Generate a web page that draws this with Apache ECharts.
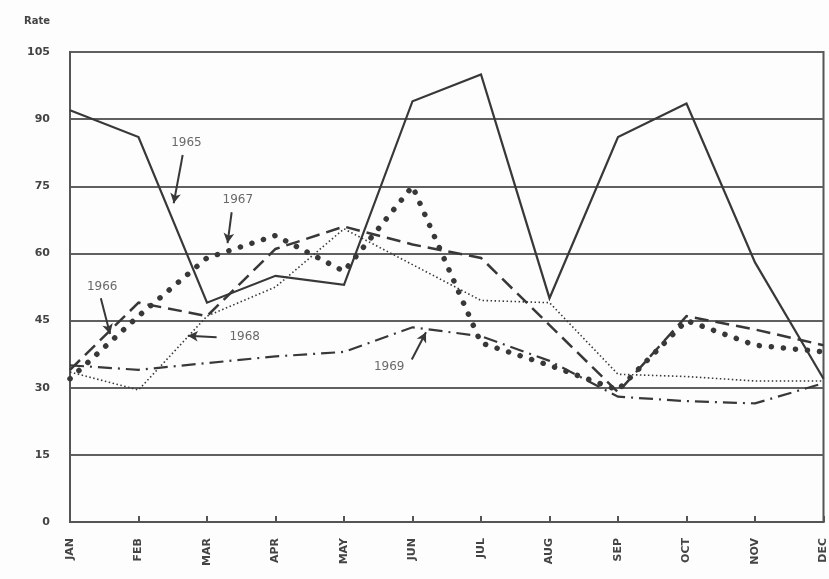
<!DOCTYPE html>
<html><head><meta charset="utf-8">
<script src="https://cdn.jsdelivr.net/npm/echarts@6/dist/echarts.min.js"></script>
<style>html,body{margin:0;padding:0;background:#fdfdfd}#c{width:829px;height:579px}</style>
</head><body><div id="c"></div>
<script>
var months = ['JAN','FEB','MAR','APR','MAY','JUN','JUL','AUG','SEP','OCT','NOV','DEC'];
var yTicks = [0, 15, 30, 45, 60, 75, 90, 105];
var r1965 = [92, 86, 49, 55, 53, 94, 100, 50, 86, 93.5, 58, 32];
var r1966 = [34, 49, 46, 61, 66, 62, 59, 44, 29, 46, 43, 39.5];
var r1967 = [32, 46, 59, 64, 56, 75, 40, 35, 29.5, 45, 39.5, 38];
var r1968 = [33.5, 29.5, 46, 52.5, 65.5, 57.5, 49.5, 49, 33, 32.5, 31.5, 31.5];
var r1969 = [35, 34, 35.5, 37, 38, 43.5, 41.5, 36, 28, 27, 26.5, 31];
// annotation labels: text position and arrow (from -> to), in data units (month index, rate)
var annText = ['1965', '1966', '1967', '1968', '1969'];
var annAt = [[1.70, 84.8], [0.47, 52.5], [2.45, 71.9], [2.55, 41.3], [4.66, 34.6]];
var annFrom = [[1.645, 82.0], [0.45, 50.0], [2.36, 69.2], [2.14, 41.3], [4.99, 36.3]];
var annTo = [[1.514, 71.2], [0.585, 42.0], [2.30, 62.3], [1.72, 41.6], [5.197, 42.4]];

function pts(arr){ return arr.map(function(v,i){ return [i, v]; }); }
var ink = '#383838';
function lineSeries(name, arr, type, width, cap){
  return { name: name, type: 'line', data: pts(arr), symbol: 'none', silent: true,
    lineStyle: { color: ink, width: width, type: type, cap: cap || 'butt', join: 'miter' } };
}
var series = [
  lineSeries('1965', r1965, 'solid', 2.2),
  lineSeries('1966', r1966, [14, 7], 2.5),
  lineSeries('1967', r1967, [0.1, 12], 5.5, 'round'),
  lineSeries('1968', r1968, [1.5, 2.5], 1.6),
  lineSeries('1969', r1969, [14, 6, 2, 6], 2.2)
];
series.push({
  type: 'scatter', symbolSize: 0, silent: true,
  data: annAt.map(function(p, i){ return [p[0], p[1], annText[i]]; }),
  label: { show: true, position: 'inside', formatter: function(p){ return p.value[2]; },
    color: '#444', fontSize: 12, fontFamily: 'DejaVu Sans' },
  markLine: { silent: true, symbol: ['none', 'arrow'], symbolSize: [8, 10], label: { show: false },
    lineStyle: { color: ink, width: 2, type: 'solid' },
    data: annFrom.map(function(f, i){ return [{ coord: f }, { coord: annTo[i] }]; }) }
});

var chart = echarts.init(document.getElementById('c'));
chart.setOption({
  backgroundColor: '#fdfdfd',
  animation: false,
  grid: { left: 70, right: 3, top: 52, bottom: 57, show: true, borderColor: '#555', borderWidth: 2, backgroundColor: 'transparent' },
  xAxis: { type: 'value', min: 0, max: 11, interval: 1,
    axisLine: { show: true, lineStyle: { color: '#555', width: 2 } },
    axisTick: { show: true, inside: true, length: 6, lineStyle: { color: '#555', width: 2 } },
    splitLine: { show: false },
    axisLabel: { rotate: 90, margin: 16, fontSize: 11, fontWeight: 'bold', color: '#444', fontFamily: 'DejaVu Sans',
      formatter: function(v){ return months[v] || ''; } } },
  yAxis: { type: 'value', min: yTicks[0], max: yTicks[yTicks.length-1], interval: 15,
    name: 'Rate', nameLocation: 'end', nameGap: 26,
    nameTextStyle: { align: 'right', padding: [0, 20, 0, 0], fontSize: 10, fontWeight: 'bold', color: '#444', fontFamily: 'DejaVu Sans' },
    axisLine: { show: true, lineStyle: { color: '#555', width: 2 } },
    axisTick: { show: false },
    splitLine: { show: true, lineStyle: { color: '#606060', width: 2 } },
    axisLabel: { margin: 20, fontSize: 11, fontWeight: 'bold', color: '#444', fontFamily: 'DejaVu Sans' } },
  series: series
});
</script></body></html>
